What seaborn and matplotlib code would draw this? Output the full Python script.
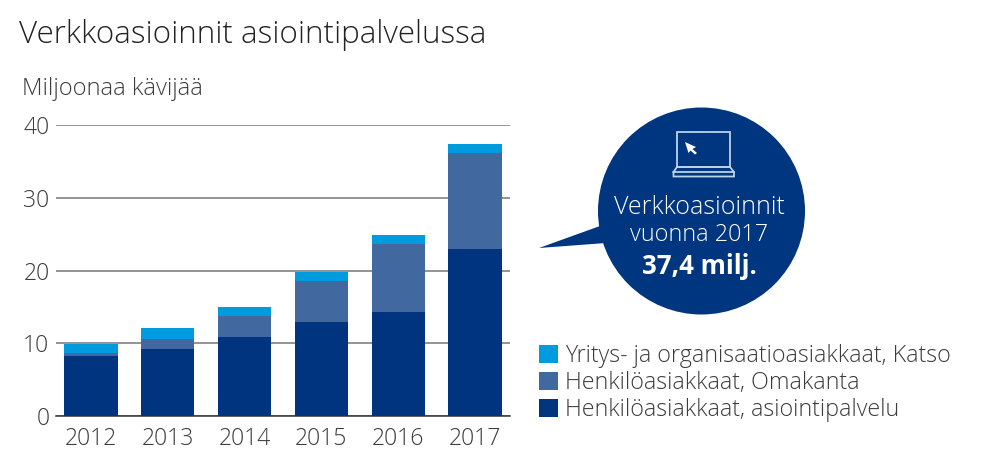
import matplotlib
matplotlib.use("Agg")
import matplotlib.pyplot as plt
from matplotlib.patches import Circle, Patch, Polygon, Rectangle
import pandas as pd
import seaborn as sns

# Values, million visitors
years = ["2012", "2013", "2014", "2015", "2016", "2017"]
asiointipalvelu = [8.3, 9.25, 10.9, 12.9, 14.35, 22.95]
omakanta = [0.3, 1.4, 2.85, 5.65, 9.3, 13.15]
katso = [1.35, 1.4, 1.3, 1.25, 1.27, 1.3]
y_ticks = [0, 10, 20, 30, 40]

series_names = ["Henkilöasiakkaat, asiointipalvelu", "Henkilöasiakkaat, Omakanta",
                "Yritys- ja organisaatioasiakkaat, Katso"]
colors = ["#00347f", "#41689f", "#009ade"]
text_color = "#3c3c3c"

sns.set_theme(style="white")
plt.rcParams["font.family"] = ["Open Sans", "DejaVu Sans"]

W, H = 1004, 474
fig = plt.figure(figsize=(W / 100, H / 100), dpi=100)
ax = fig.add_axes([55.7 / W, 1 - 416 / H, (510 - 55.7) / W, (416 - 125) / H])

df = pd.DataFrame({"year": years, "a": asiointipalvelu, "b": omakanta, "c": katso})

# Stacked bars, one barplot per layer
bottom = df["a"] * 0
for col, color in zip(["a", "b", "c"], colors):
    sns.barplot(data=df, x="year", y=col, bottom=bottom, color=color, width=0.694,
                saturation=1, linewidth=0, ax=ax, zorder=3)
    bottom = bottom + df[col]

ax.set_xlim(-0.46, 5.456)
ax.set_ylim(0, 40)
ax.set_yticks(y_ticks)
ax.set_xlabel("")
ax.set_ylabel("")
ax.grid(axis="y", color="#777777", linewidth=1.1, zorder=0)
ax.set_axisbelow(True)
sns.despine(ax=ax, left=True)
ax.spines["bottom"].set_color("#333333")
ax.spines["bottom"].set_linewidth(1.1)
ax.tick_params(axis="x", length=0, pad=8, labelsize=16.6, labelcolor=text_color)
ax.tick_params(axis="y", length=0, pad=4.5, labelsize=16.6, labelcolor=text_color)
for lab in ax.get_xticklabels() + ax.get_yticklabels():
    lab.set_fontweight("light")

# Overlay in pixel coordinates for the speech bubble
over = fig.add_axes([0, 0, 1, 1], zorder=5)
over.set_xlim(0, W)
over.set_ylim(H, 0)
over.axis("off")
over.patch.set_alpha(0)

bubble = "#003580"
icon = "#bcd2ea"
over.add_patch(Circle((701.5, 211), 103.5, color=bubble, lw=0))
over.add_patch(Polygon([(539, 248), (600, 226), (606, 243)], closed=True, color=bubble, lw=0))
over.add_patch(Rectangle((677, 132), 53, 35, fill=False, ec=icon, lw=1.3))
over.add_patch(Polygon([(677, 167), (730, 167), (734, 172), (734, 176.5), (673.5, 176.5), (673.5, 172)],
                       closed=True, fill=False, ec=icon, lw=1.3))
over.plot([673.5, 734], [172, 172], color=icon, lw=1.3)
over.add_patch(Polygon([(685, 142), (696, 147), (692.5, 149), (697, 153), (695, 154.5), (690.5, 150.5), (688.5, 153)],
                       closed=True, fc="white", ec="none"))

over.text(699.5, 208, "Verkkoasioinnit", color="white", fontsize=18, fontweight="light",
          ha="center", va="center")
over.text(699.5, 235, "vuonna 2017", color="white", fontsize=16.8, fontweight="light",
          ha="center", va="center")
over.text(699, 266, "37,4 milj.", color="white", fontsize=18.5, fontweight="bold",
          ha="center", va="center")

over.text(19, 35, "Verkkoasioinnit asiointipalvelussa", color="#222222", fontsize=22.6,
          fontweight="light", ha="left", va="center")
over.text(22, 89, "Miljoonaa kävijää", color=text_color, fontsize=17.1,
          fontweight="light", ha="left", va="center")

handles = [Patch(color=c, lw=0) for c in colors[::-1]]
leg = fig.legend(handles, series_names[::-1], loc="upper left", bbox_to_anchor=(532 / W, 1 - 337 / H),
                 frameon=False, handlelength=0.82, handleheight=0.82,
                 handletextpad=0.3, labelspacing=0.13, borderpad=0.3, borderaxespad=0,
                 labelcolor=text_color, prop={"size": 16.75, "weight": "light"})

fig.savefig("out.png", dpi=100)
